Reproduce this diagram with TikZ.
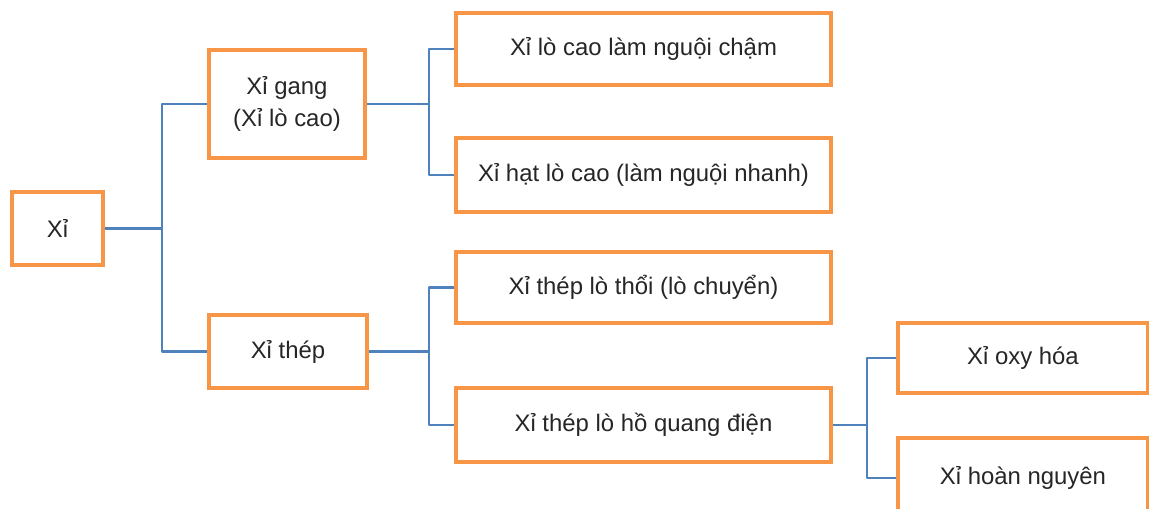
\documentclass[tikz,border=0pt]{standalone}
\usepackage{fontspec}
\setmainfont{Liberation Sans}
\usepackage{xcolor}
\definecolor{boxorange}{HTML}{F79646}
\definecolor{linkblue}{HTML}{4F81BD}
\tikzset{
  slagbox/.style={draw=boxorange,line width=2.3pt,fill=white,inner sep=0pt,
    align=center,font=\fontsize{13.6}{18.5}\selectfont,text=black!85},
  link/.style={draw=linkblue,line width=1.6pt,line join=round}
}

\begin{document}
\begin{tikzpicture}[x=0.02cm,y=-0.02cm]
\useasboundingbox (0,0) rectangle (1149,508);
\clip (0,0) rectangle (1149,508);

\node[slagbox,minimum width=1.82cm,minimum height=1.46cm] (xi) at (57.5,228.5) {Xỉ};

\node[slagbox,minimum width=3.12cm,minimum height=2.16cm] (gang) at (287,104) {Xỉ gang\\(Xỉ lò cao)};
\node[slagbox,minimum width=3.16cm,minimum height=1.46cm] (thep) at (288,351.5) {Xỉ thép};

\node[slagbox,minimum width=7.5cm,minimum height=1.44cm] (cham) at (643.5,49) {Xỉ lò cao làm nguội chậm};
\node[slagbox,minimum width=7.5cm,minimum height=1.48cm] (hat) at (643.5,175) {Xỉ hạt lò cao (làm nguội nhanh)};
\node[slagbox,minimum width=7.5cm,minimum height=1.42cm] (thoi) at (643.5,287.5) {Xỉ thép lò thổi (lò chuyển)};
\node[slagbox,minimum width=7.5cm,minimum height=1.48cm] (hoquang) at (643.5,425) {Xỉ thép lò hồ quang điện};

\node[slagbox,minimum width=5cm,minimum height=1.4cm] (oxy) at (1023,358) {Xỉ oxy hóa};
\node[slagbox,minimum width=5cm,minimum height=1.6cm] (hoan) at (1023,478) {Xỉ hoàn nguyên};

% branch points
\coordinate (j1) at (162,228.5);
\coordinate (j2) at (429,104);
\coordinate (j3) at (429,351.5);
\coordinate (j4) at (867,425);

\draw[link] (xi) -- (j1);
\draw[link] (gang.west) -| (j1) |- (thep.west);
\draw[link] (gang) -- (j2);
\draw[link] (cham.west) -| (j2) |- (hat.west);
\draw[link] (thep) -- (j3);
\draw[link] (thoi.west) -| (j3) |- (hoquang.west);
\draw[link] (hoquang) -- (j4);
\draw[link] (oxy.west) -| (j4) |- (hoan.west);
\end{tikzpicture}
\end{document}
